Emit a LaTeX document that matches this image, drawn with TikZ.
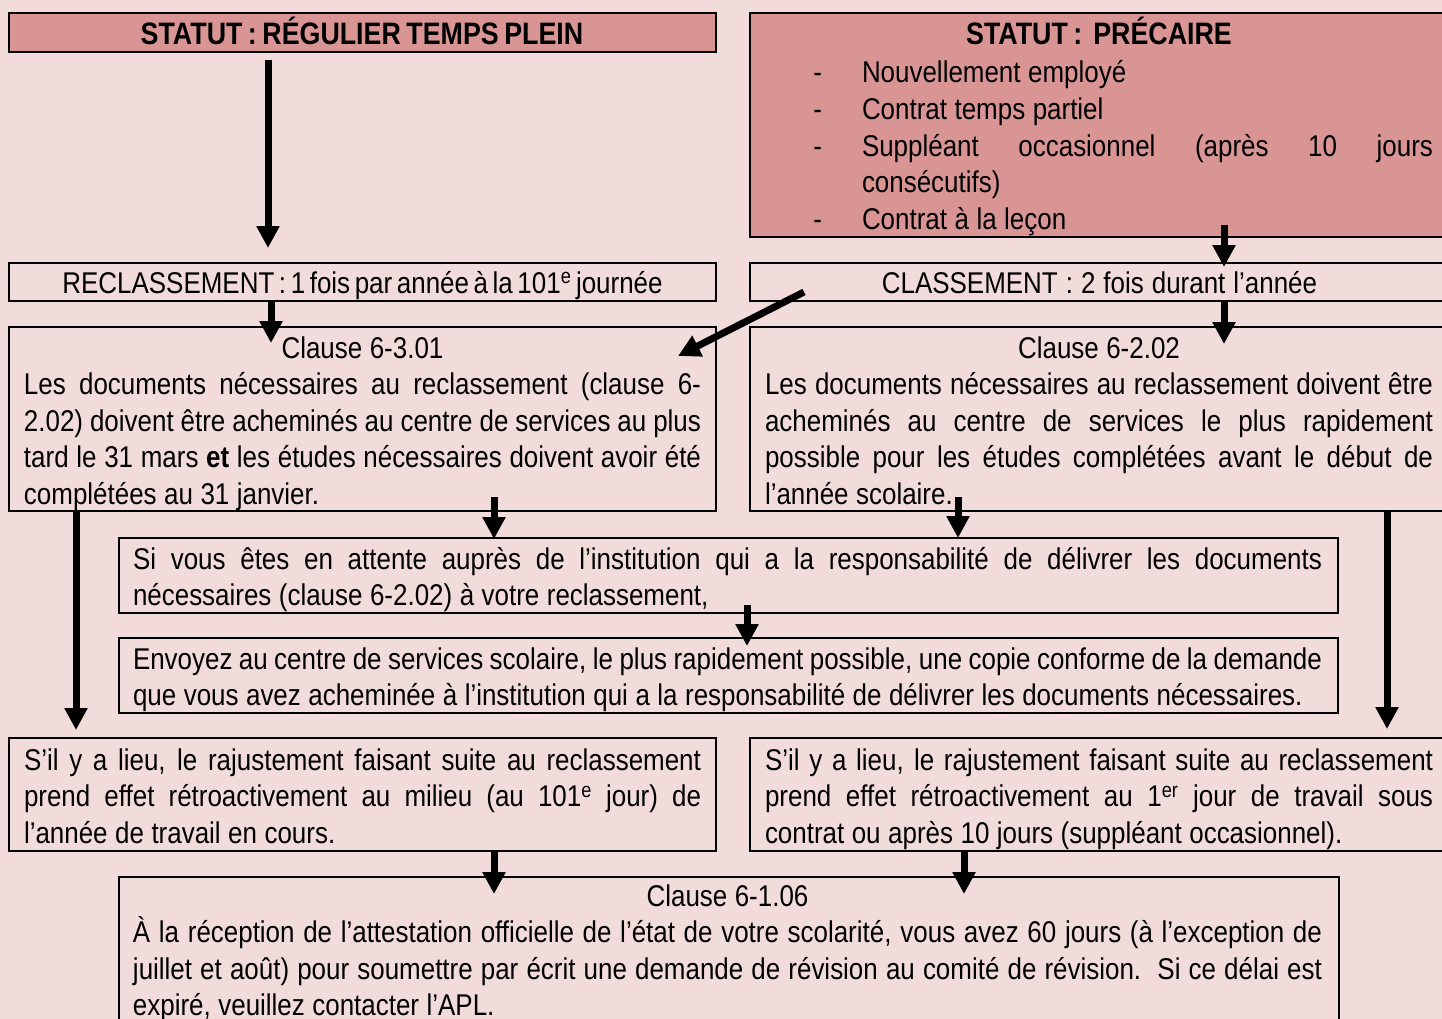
\documentclass[tikz,border=0pt]{standalone}
\usepackage{fontspec}
\setmainfont{Liberation Sans}[FakeStretch=0.865]
\usetikzlibrary{arrows.meta,calc}
\definecolor{bgpink}{HTML}{F2DCDB}
\definecolor{hdpink}{HTML}{D99594}
\newcommand\jline[1]{\makebox[\linewidth][s]{#1}}
\newcommand\tstart{\spaceskip=7.5pt plus 10pt minus 2.5pt\relax\xspaceskip=\spaceskip\hyphenpenalty=10000\relax\rule{0pt}{30pt}}
\newcommand\dashitem{\leavevmode\llap{-\hspace{40pt}}}
\begin{document}
\begin{tikzpicture}[x=1pt,y=-1pt,
  box/.style={draw=black, line width=1.8pt, inner sep=0pt, outer sep=0pt, anchor=north west},
  hdr/.style={box, fill=hdpink},
  txt/.style={inner sep=0pt, outer sep=0pt, anchor=north west, align=left, font=\fontsize{30}{36.6}\selectfont},
  ttl/.style={inner sep=0pt, outer sep=0pt, anchor=base, font=\fontsize{30}{36.6}\selectfont},
  hdt/.style={ttl, font=\fontsize{31}{36.6}\selectfont\bfseries},
  arr/.style={line width=7pt, -{Triangle[width=22pt,length=22pt]}}]
\useasboundingbox (0,0) rectangle (1442,1019);
\fill[bgpink] (0,0) rectangle (1442,1019);
% boxes
\node[hdr, minimum width=707pt, minimum height=39pt] (A) at (9,13) {};
\node[hdr, minimum width=700pt, minimum height=224pt] (B) at (750,13) {};
\node[box, minimum width=707pt, minimum height=38pt] (C) at (9,263) {};
\node[box, minimum width=700pt, minimum height=38pt] (D) at (750,263) {};
\node[box, minimum width=707pt, minimum height=184pt] (E) at (9,327) {};
\node[box, minimum width=700pt, minimum height=184pt] (F) at (750,327) {};
\node[box, minimum width=1219pt, minimum height=75pt] (G) at (119,538) {};
\node[box, minimum width=1219pt, minimum height=75pt] (H) at (119,638) {};
\node[box, minimum width=707pt, minimum height=113pt] (I) at (9,738) {};
\node[box, minimum width=700pt, minimum height=113pt] (J) at (750,738) {};
\node[box, minimum width=1220pt, minimum height=160pt] (K) at (119,877) {};
% titles
\node[hdt] (tA) at (362,45) {\spaceskip=5.5pt\relax STATUT : RÉGULIER TEMPS PLEIN};
\node[hdt] (tB) at (1099,45) {\spaceskip=5.5pt\relax STATUT : \ PRÉCAIRE};
\node[ttl] (tC) at (362.5,293) {\spaceskip=4.6pt\relax RECLASSEMENT : 1 fois par année à la 101\textsuperscript{e} journée};
\node[ttl] (tD) at (1099.5,293) {\spaceskip=8pt\relax CLASSEMENT : 2 fois durant l’année};
% texts
\node[txt, text width=571pt] (tBl) at (862,53) {\tstart\dashitem Nouvellement employé\\
\dashitem Contrat temps partiel\\
\dashitem\jline{Suppléant occasionnel (après 10 jours}\\
consécutifs)\\
\dashitem Contrat à la leçon};
\node[txt, text width=677pt] (tE) at (24,328) {\tstart\makebox[\linewidth][c]{Clause 6-3.01}\\
\jline{Les documents nécessaires au reclassement (clause 6-}\\
\jline{2.02) doivent être acheminés au centre de services au plus}\\
\jline{tard le 31 mars \textbf{et} les études nécessaires doivent avoir été}\\
complétées au 31 janvier.};
\node[txt, text width=668pt] (tF) at (765,328) {\tstart\makebox[\linewidth][c]{Clause 6-2.02}\\
\jline{Les documents nécessaires au reclassement doivent être}\\
\jline{acheminés au centre de services le plus rapidement}\\
\jline{possible pour les études complétées avant le début de}\\
l’année scolaire.};
\node[txt, text width=1189pt] (tG) at (133,539) {\tstart\jline{Si vous êtes en attente auprès de l’institution qui a la responsabilité de délivrer les documents}\\
nécessaires (clause 6-2.02) à votre reclassement,};
\node[txt, text width=1189pt] (tH) at (133,639) {\tstart\jline{Envoyez au centre de services scolaire, le plus rapidement possible, une copie conforme de la demande}\\
que vous avez acheminée à l’institution qui a la responsabilité de délivrer les documents nécessaires.};
\node[txt, text width=677pt] (tI) at (24,740) {\tstart\jline{S’il y a lieu, le rajustement faisant suite au reclassement}\\
\jline{prend effet rétroactivement au milieu (au 101\textsuperscript{e} jour) de}\\
l’année de travail en cours.};
\node[txt, text width=668pt] (tJ) at (765,740) {\tstart\jline{S’il y a lieu, le rajustement faisant suite au reclassement}\\
\jline{prend effet rétroactivement au 1\textsuperscript{er} jour de travail sous}\\
contrat ou après 10 jours (suppléant occasionnel).};
\node[txt, text width=1189pt] (tK) at (133,876) {\tstart\makebox[\linewidth][c]{Clause 6-1.06}\\
\jline{À la réception de l’attestation officielle de l’état de votre scolarité, vous avez 60 jours (à l’exception de}\\
\jline{juillet et août) pour soumettre par écrit une demande de révision au comité de révision.\ \ Si ce délai est}\\
expiré, veuillez contacter l’APL.};
% arrows
\draw[arr] ($(A.south west)+(259,8)$) -- ($(C.north west)+(259,-15)$);
\draw[arr] ($(B.south west)+(474,-12)$) -- ($(D.north west)+(474,4)$);
\draw[arr] ($(C.south west)+(262,0)$) -- ($(E.north west)+(262,16)$);
\draw[arr] ($(D.south west)+(474,0)$) -- ($(F.north west)+(474,17)$);
\draw[arr] ($(D.south west)+(54,-9)$) -- ($(E.north east)+(-38,29)$);
\draw[arr] ($(E.south west)+(485,-14)$) -- ($(G.north west)+(375,1)$);
\draw[arr] ($(F.south west)+(208,-14)$) -- ($(G.north west)+(839,0)$);
\draw[arr] ($(G.south west)+(628,-8)$) -- ($(H.north west)+(628,8)$);
\draw[arr] ($(E.south west)+(67,0)$) -- ($(I.north west)+(67,-8)$);
\draw[arr] ($(F.south west)+(637,0)$) -- ($(J.north west)+(637,-9)$);
\draw[arr] ($(I.south west)+(485,0)$) -- ($(K.north west)+(375,17)$);
\draw[arr] ($(J.south west)+(214,0)$) -- ($(K.north west)+(845,17)$);
\end{tikzpicture}
\end{document}
